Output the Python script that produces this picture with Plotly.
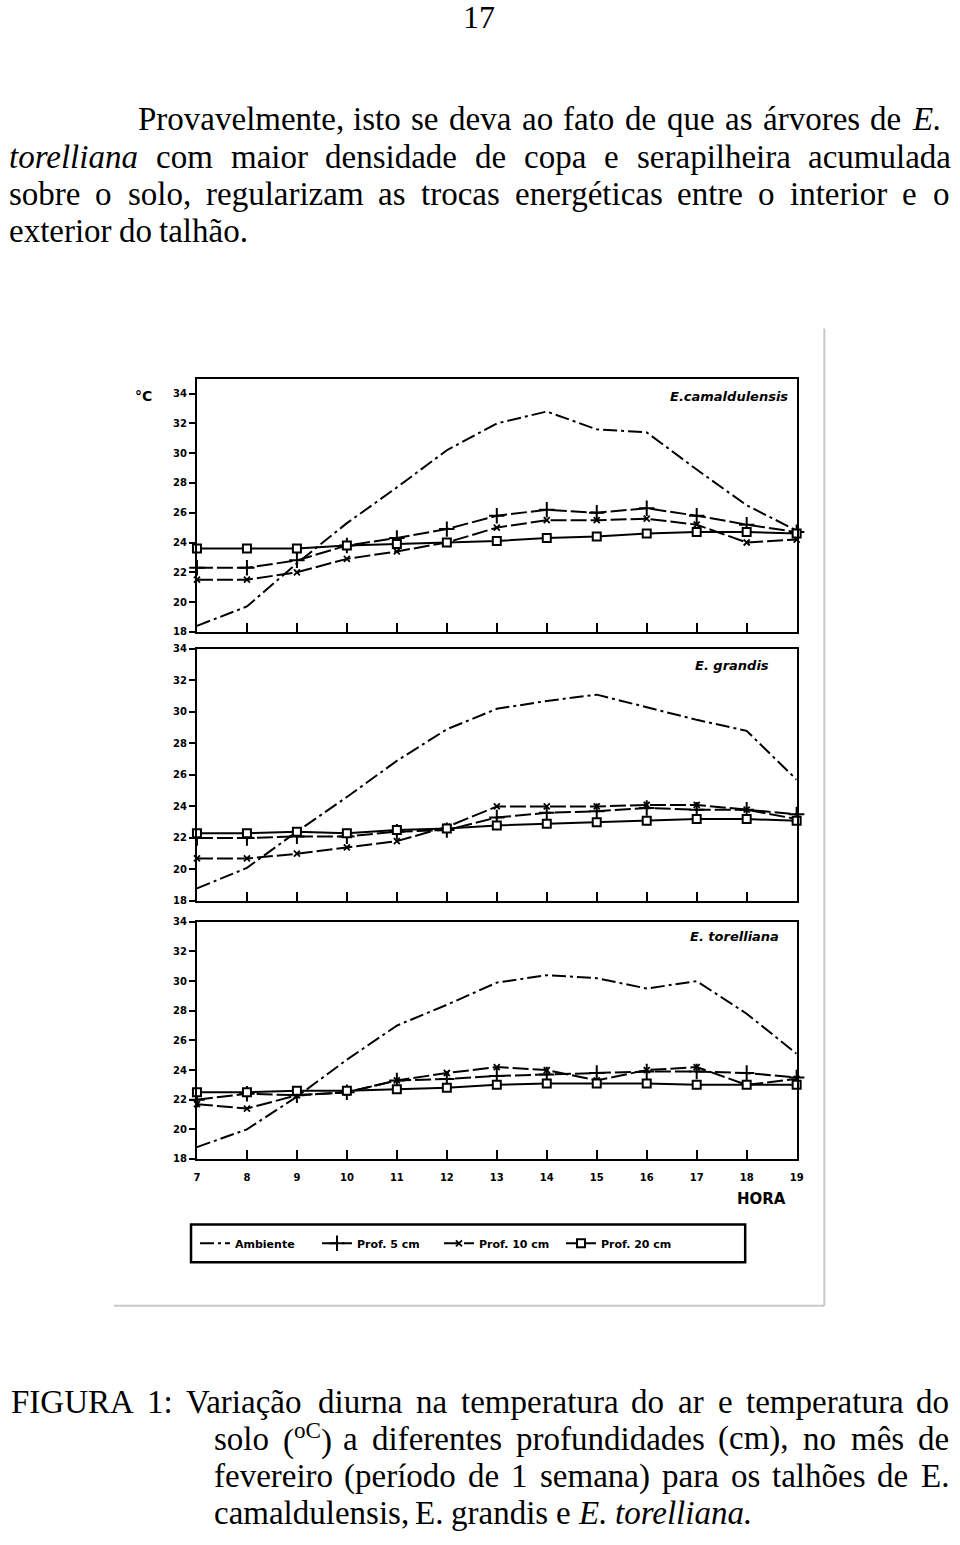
import plotly.graph_objects as go

W, H = 960, 1545

# ---------------- data ----------------
hours = list(range(7, 20))
hour_labels = [str(h) for h in hours]
temp_ticks = [18, 20, 22, 24, 26, 28, 30, 32, 34]
temp_labels = [str(t) for t in temp_ticks]

series_names = ["Ambiente", "Prof. 5 cm", "Prof. 10 cm", "Prof. 20 cm"]
species = ["E.camaldulensis", "E. grandis", "E. torelliana"]

cam_ambiente = [18.4, 19.7, 22.6, 25.3, 27.7, 30.2, 32.0, 32.8, 31.6, 31.4, 28.9, 26.5, 24.8]
cam_prof5 = [22.3, 22.3, 22.8, 23.8, 24.3, 24.9, 25.8, 26.2, 26.0, 26.3, 25.8, 25.2, 24.7]
cam_prof10 = [21.5, 21.5, 22.0, 22.9, 23.4, 24.0, 25.0, 25.5, 25.5, 25.6, 25.2, 24.0, 24.2]
cam_prof20 = [23.6, 23.6, 23.6, 23.8, 23.9, 24.0, 24.1, 24.3, 24.4, 24.6, 24.7, 24.7, 24.6]

gra_ambiente = [18.8, 20.1, 22.4, 24.6, 26.9, 28.9, 30.2, 30.7, 31.1, 30.3, 29.5, 28.8, 25.7]
gra_prof5 = [22.0, 22.0, 22.1, 22.1, 22.4, 22.5, 23.3, 23.6, 23.7, 23.9, 23.8, 23.8, 23.5]
gra_prof10 = [20.7, 20.7, 21.0, 21.4, 21.8, 22.7, 24.0, 24.0, 24.0, 24.1, 24.1, 23.8, 23.2]
gra_prof20 = [22.3, 22.3, 22.4, 22.3, 22.5, 22.6, 22.8, 22.9, 23.0, 23.1, 23.2, 23.2, 23.1]

tor_ambiente = [18.8, 20.0, 22.2, 24.7, 27.0, 28.4, 29.9, 30.4, 30.2, 29.5, 30.0, 27.8, 25.1]
tor_prof5 = [22.0, 22.4, 22.3, 22.5, 23.3, 23.4, 23.6, 23.7, 23.8, 23.9, 23.9, 23.8, 23.5]
tor_prof10 = [21.7, 21.4, 22.3, 22.5, 23.3, 23.8, 24.2, 24.0, 23.3, 24.0, 24.2, 23.0, 23.4]
tor_prof20 = [22.5, 22.5, 22.6, 22.6, 22.7, 22.8, 23.0, 23.1, 23.1, 23.1, 23.0, 23.0, 23.0]

panels = [
    [cam_ambiente, cam_prof5, cam_prof10, cam_prof20],
    [gra_ambiente, gra_prof5, gra_prof10, gra_prof20],
    [tor_ambiente, tor_prof5, tor_prof10, tor_prof20],
]

# ---------------- helpers ----------------
def px(x):
    return x / W


def py(y):
    return 1 - y / H


ROMAN = {
    " ": 250, ",": 250, ".": 250, ":": 278, "(": 333, ")": 333,
    "0": 500, "1": 500, "2": 500, "3": 500, "4": 500, "5": 500, "6": 500,
    "7": 500, "8": 500, "9": 500,
    "a": 444, "b": 500, "c": 444, "d": 500, "e": 444, "f": 333, "g": 500,
    "h": 500, "i": 278, "j": 278, "k": 500, "l": 278, "m": 778, "n": 500,
    "o": 500, "p": 500, "q": 500, "r": 333, "s": 389, "t": 278, "u": 500,
    "v": 500, "w": 722, "x": 500, "y": 500, "z": 444,
    "á": 444, "é": 444, "ã": 444, "ç": 444, "ê": 444, "í": 278, "õ": 500,
    "A": 722, "B": 667, "C": 667, "D": 722, "E": 611, "F": 556, "G": 722,
    "H": 722, "I": 333, "J": 389, "K": 722, "L": 611, "M": 889, "N": 722,
    "O": 722, "P": 556, "Q": 722, "R": 667, "S": 556, "T": 611, "U": 722,
    "V": 722, "W": 944, "X": 722, "Y": 722, "Z": 611,
}
ITALIC = dict(ROMAN)
ITALIC.update({"a": 500, "f": 278, "k": 444, "m": 722, "r": 389, "v": 444,
               "w": 667, "x": 444, "y": 444, "z": 389})


def word_width(w, size):
    text, italic, override = w
    if override is not None:
        return override * size
    table = ITALIC if italic else ROMAN
    return sum(table.get(c, 500) for c in text) / 1000 * size


SERIF = "Liberation Serif"
FS = 33

annotations = []


def text_line(words, x0, x1, yc, justify=True, size=FS):
    ws = [word_width(w, size) for w in words]
    total = sum(ws)
    if justify and len(words) > 1:
        gap = (x1 - x0 - total) / (len(words) - 1)
    else:
        gap = 0.25 * size
    x = x0
    for w, wd in zip(words, ws):
        text, italic, _ = w
        annotations.append(dict(
            x=px(x), y=py(yc), xref="paper", yref="paper",
            xanchor="left", yanchor="middle", showarrow=False, borderpad=0,
            text=text,
            font=dict(family=SERIF, size=size, color="black",
                      style="italic" if italic else "normal"),
        ))
        x += wd + gap


def R(s):
    return [(w, False, None) for w in s.split()]


def I(s):
    return [(w, True, None) for w in s.split()]


# page number
annotations.append(dict(x=px(481), y=py(11), xref="paper", yref="paper",
                        xanchor="center", yanchor="middle",
                        showarrow=False, text="17",
                        font=dict(family=SERIF, size=32, color="black")))

# body paragraph
text_line(R("Provavelmente, isto se deva ao fato de que as árvores de") + I("E."), 135, 946, 114)
text_line(I("torelliana") + R("com maior densidade de copa e serapilheira acumulada"), 5, 955, 152)
text_line(R("sobre o solo, regularizam as trocas energéticas entre o interior e o"), 5, 955, 189)
text_line(R("exterior do talhão."), 5, 955, 227, justify=False)

# caption
text_line(R("FIGURA 1: Variação diurna na temperatura do ar e temperatura do"), 7, 955, 1407)
text_line(R("solo") + [("(<sup>oC</sup>)", False, 1.36)] +
          R("a diferentes profundidades (cm), no mês de"), 212, 955, 1444)
text_line(R("fevereiro (período de 1 semana) para os talhões de E."), 212, 955, 1482)
text_line(R("camaldulensis, E. grandis e") + I("E. torelliana."), 212, 955, 1519, justify=False)

# ---------------- chart ----------------
fig = go.Figure()

styles = [
    dict(line=dict(color="black", width=2, dash="14px,4px,3px,4px"),
         mode="lines"),
    dict(line=dict(color="black", width=2, dash="16px,4px"),
         mode="lines+markers",
         marker=dict(symbol="cross-thin", size=11, line=dict(color="black", width=2))),
    dict(line=dict(color="black", width=2, dash="16px,4px"),
         mode="lines+markers",
         marker=dict(symbol="x-thin", size=6, line=dict(color="black", width=1.8))),
    dict(line=dict(color="black", width=2),
         mode="lines+markers",
         marker=dict(symbol="square", size=8, color="white",
                     line=dict(color="black", width=2))),
]

axis_suffix = ["", "2", "3"]
for p, series in enumerate(panels):
    for s, vals in enumerate(series):
        st = styles[s]
        fig.add_trace(go.Scatter(
            x=hours, y=vals, name=series_names[s],
            xaxis="x" + axis_suffix[p], yaxis="y" + axis_suffix[p],
            showlegend=(p == 0), legendgroup=series_names[s],
            cliponaxis=False, **st,
        ))

# panel geometry (pixels)
x_left, x_right = 196, 802
panel_px = [(375.7, 630.7), (648, 902), (923, 1162)]
panel_range = [[18, 35], [18, 34], [18, 34]]

tickfont = dict(family="DejaVu Sans", size=10, color="black", weight="bold")
layout_axes = {}
for p in range(3):
    top, bottom = panel_px[p]
    xa = dict(domain=[px(x_left), px(x_right)], range=[7, 19],
              anchor="y" + axis_suffix[p], tickvals=hours, ticktext=hour_labels,
              ticks="inside", ticklen=9, tickwidth=1.5, tickcolor="black",
              showline=True, linecolor="black", linewidth=2, mirror=True,
              showgrid=False, zeroline=False, showticklabels=(p == 2),
              tickfont=tickfont, ticklabelstandoff=8)
    ya = dict(domain=[py(bottom), py(top)], range=panel_range[p],
              anchor="x" + axis_suffix[p], tickvals=temp_ticks, ticktext=temp_labels,
              ticks="outside", ticklen=6, tickwidth=1.5, tickcolor="black",
              showline=True, linecolor="black", linewidth=2, mirror=True,
              showgrid=False, zeroline=False, tickfont=tickfont)
    layout_axes["xaxis" + axis_suffix[p]] = xa
    layout_axes["yaxis" + axis_suffix[p]] = ya

label_font = dict(family="DejaVu Sans", size=14, color="black", weight="bold")
annotations.append(dict(x=px(142), y=py(393), xref="paper", yref="paper",
                        xanchor="center", yanchor="middle",
                        showarrow=False, text="°C", font=label_font))
annotations.append(dict(x=px(766), y=py(1202), xref="paper", yref="paper",
                        xanchor="center", yanchor="middle",
                        showarrow=False, text="HORA",
                        font=dict(family="DejaVu Sans", size=15, color="black", weight="bold")))
species_pos = [(795, 394), (776, 665), (786, 938)]
for name, (sx, sy) in zip(species, species_pos):
    annotations.append(dict(x=px(sx), y=py(sy), xref="paper", yref="paper",
                            xanchor="right", yanchor="middle", showarrow=False, text=name,
                            font=dict(family="DejaVu Sans", size=13, color="black",
                                      weight="bold", style="italic")))

shapes = [
    dict(type="rect", xref="paper", yref="paper",
         x0=px(190), x1=px(750), y0=py(1266), y1=py(1228),
         line=dict(color="black", width=2.5)),
    dict(type="line", xref="paper", yref="paper",
         x0=px(112), x1=px(830), y0=py(1310), y1=py(1310),
         line=dict(color="#c8c8c8", width=2)),
    dict(type="line", xref="paper", yref="paper",
         x0=px(830), x1=px(830), y0=py(325), y1=py(1310),
         line=dict(color="#c8c8c8", width=2)),
]

fig.update_layout(
    width=W, height=H,
    margin=dict(l=0, r=0, t=0, b=0),
    paper_bgcolor="white", plot_bgcolor="white",
    annotations=annotations, shapes=shapes,
    legend=dict(orientation="h", x=px(194), y=py(1247), xanchor="left",
                yanchor="middle", bgcolor="rgba(0,0,0,0)", borderwidth=0,
                font=dict(family="DejaVu Sans", size=11, color="black", weight="bold"),
                entrywidth=77, entrywidthmode="pixels", itemwidth=30),
    **layout_axes,
)

fig.write_html(
    "out.html",
    config={"displayModeBar": False},
    post_script="document.body.style.margin='0';document.body.style.overflow='hidden';",
)
